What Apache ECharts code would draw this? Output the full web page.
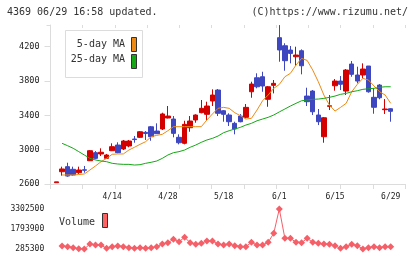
<!DOCTYPE html>
<html>
<head>
<meta charset="utf-8">
<script src="https://cdn.jsdelivr.net/npm/echarts@6/dist/echarts.min.js"></script>
<style>
  html, body { margin: 0; padding: 0; background: #fff; }
  #chart { width: 420px; height: 259px; }
</style>
</head>
<body>
<div id="chart"></div>
<script>
// trading days shown on the chart
const dates = [
  '3/31', '4/1', '4/2', '4/3', '4/6', '4/7', '4/8', '4/9', '4/10', '4/13',
  '4/14', '4/15', '4/16', '4/17', '4/20', '4/21', '4/22', '4/23', '4/24', '4/27',
  '4/28', '4/30', '5/1', '5/7', '5/8', '5/11', '5/12', '5/13', '5/14', '5/15',
  '5/18', '5/19', '5/20', '5/21', '5/22', '5/25', '5/26', '5/27', '5/28', '5/29',
  '6/1', '6/2', '6/3', '6/4', '6/5', '6/8', '6/9', '6/10', '6/11', '6/12',
  '6/15', '6/16', '6/17', '6/18', '6/19', '6/22', '6/23', '6/24', '6/25', '6/26',
  '6/29'
];

const opens = [
  2615, 2743, 2802, 2771, 2732, 2766, 2871, 2965, 2950, 2899,
  2988, 3054, 3008, 3043, 3124, 3144, 3202, 3267, 3217, 3241,
  3369, 3357, 3144, 3074, 3256, 3346, 3431, 3412, 3567, 3695,
  3454, 3404, 3307, 3392, 3377, 3675, 3838, 3850, 3587, 3750,
  4305, 4211, 4161, 4083, 4153, 3625, 3683, 3404, 3151, 3505,
  3745, 3800, 3683, 3998, 3870, 3870, 3975, 3610, 3753, 3466,
  3477
];
const closes = [
  2625, 2775, 2693, 2705, 2763, 2760, 2988, 2899, 2970, 2938,
  3035, 2965, 3101, 3101, 3118, 3209, 3188, 3151, 3186, 3416,
  3392, 3190, 3081, 3295, 3334, 3404, 3482, 3509, 3637, 3424,
  3412, 3326, 3241, 3326, 3493, 3765, 3733, 3742, 3733, 3773,
  4162, 4037, 4122, 4103, 3978, 3559, 3442, 3326, 3372, 3512,
  3800, 3762, 3928, 3878, 3800, 3940, 3675, 3494, 3605, 3474,
  3447
];
const lows = [
  2615, 2697, 2685, 2697, 2717, 2732, 2868, 2888, 2926, 2891,
  2984, 2958, 2996, 3028, 3081, 3136, 3113, 3104, 3186, 3229,
  3365, 3144, 3062, 3062, 3209, 3314, 3424, 3346, 3509, 3392,
  3326, 3276, 3179, 3319, 3365, 3605, 3715, 3675, 3500, 3656,
  4025, 3920, 4006, 3978, 3878, 3509, 3404, 3287, 3081, 3462,
  3687, 3695, 3637, 3850, 3773, 3831, 3664, 3419, 3587, 3416,
  3326
];
const highs = [
  2625, 2802, 2848, 2802, 2802, 2810, 2996, 2984, 3016, 2950,
  3074, 3086, 3113, 3113, 3159, 3217, 3217, 3276, 3307, 3431,
  3509, 3392, 3179, 3337, 3392, 3412, 3579, 3559, 3703, 3707,
  3462, 3424, 3326, 3415, 3532, 3792, 3890, 3908, 3742, 3812,
  4452, 4240, 4208, 4200, 4169, 3722, 3695, 3474, 3381, 3637,
  3823, 3858, 3940, 4033, 3967, 4006, 3975, 3718, 3765, 3590,
  3482
];

// moving averages
const ma5 = [
  null, 2705, 2705, 2705, 2710, 2717, 2763, 2810, 2860, 2899,
  2946, 2950, 2950, 2996, 3028, 3062, 3093, 3151, 3167, 3179,
  3221, 3268, 3268, 3268, 3268, 3268, 3268, 3346, 3416, 3482,
  3493, 3482, 3431, 3396, 3357, 3365, 3462, 3570, 3637, 3715,
  3760, 3850, 3890, 3986, 4064, 4040, 3928, 3792, 3637, 3520,
  3450, 3493, 3540, 3675, 3761, 3831, 3812, 3742, 3675, 3637,
  3540
];
const ma25 = [
  null, 3074, 3046, 3016, 2977, 2938, 2899, 2880, 2868, 2860,
  2841, 2833, 2829, 2829, 2821, 2825, 2841, 2853, 2868, 2899,
  2938, 2965, 2977, 2996, 3028, 3054, 3086, 3113, 3132, 3159,
  3198, 3221, 3241, 3260, 3287, 3307, 3337, 3357, 3377, 3404,
  3440, 3474, 3509, 3540, 3570, 3579, 3587, 3590, 3598, 3610,
  3625, 3645, 3656, 3675, 3687, 3703, 3710, 3715, 3727, 3733,
  3733
];

const volumes = [
  null, 511000, 460000, 385000, 300000, 285300, 663000, 587000, 587000, 335000,
  460000, 511000, 460000, 385000, 335000, 385000, 335000, 385000, 460000, 663000,
  760000, 1017000, 836000, 1168000, 760000, 640000, 715000, 890000, 890000, 663000,
  587000, 663000, 535000, 460000, 460000, 790000, 587000, 587000, 790000, 1470000,
  3302500, 1092000, 1092000, 790000, 760000, 1092000, 790000, 715000, 663000, 640000,
  535000, 335000, 460000, 640000, 535000, 290000, 385000, 460000, 385000, 460000,
  460000
];

const priceTicks = [2600, 4453, 400];
const volTicks = [285300, 3302500, 1508600];

const UP = '#d40000';
const DOWN = '#3e46c0';
const ORANGE = '#ee8a14';
const GREEN = '#14a814';
const VOL = '#f55f68';
const GRID = '#dcdcdc';
const MONO = '"DejaVu Sans Mono", "Liberation Mono", monospace';

const candles = dates.map((d, i) => [opens[i], closes[i], lows[i], highs[i]]);
const plain = (v) => String(v);

const chart = echarts.init(document.getElementById('chart'), null, { renderer: 'canvas' });

const frameX = (inside, len) => ({
  type: 'value', gridIndex: 0, min: 0, max: 11, interval: 1,
  axisLine: { show: !inside, lineStyle: { color: GRID } },
  axisTick: { show: true, inside: inside, length: len, lineStyle: { color: GRID } },
  axisLabel: { show: false },
  splitLine: { show: false }
});
const frameY = (inside, len, labels) => ({
  type: 'value', gridIndex: 0, min: priceTicks[0], max: priceTicks[1], interval: priceTicks[2],
  axisLine: { show: !inside, lineStyle: { color: GRID } },
  axisTick: { show: true, inside: inside, length: len, lineStyle: { color: GRID } },
  axisLabel: {
    show: labels, margin: 11, color: '#222', fontFamily: MONO, fontSize: 8.5,
    showMaxLabel: false, formatter: plain
  },
  splitLine: { show: false }
});

chart.setOption({
  animation: false,
  backgroundColor: '#fff',
  grid: [
    { left: 50.5, top: 25, width: 354.5, height: 159 },
    { left: 53.7, top: 25, width: 339.8, height: 159 },
    { left: 53.7, top: 209, width: 339.8, height: 40 }
  ],
  xAxis: [
    frameX(false, 5),
    frameX(true, 3),
    {
      type: 'category', gridIndex: 1, data: dates, boundaryGap: true,
      axisLine: { show: false }, axisTick: { show: false },
      axisLabel: {
        interval: (idx) => idx > 0 && idx % 10 === 0,
        margin: 9, color: '#222', fontFamily: MONO, fontSize: 8
      },
      splitLine: { show: false }
    },
    {
      type: 'category', gridIndex: 2, data: dates, boundaryGap: true,
      axisLine: { show: false }, axisTick: { show: false },
      axisLabel: { show: false }, splitLine: { show: false }
    }
  ],
  yAxis: [
    frameY(false, 6, true),
    frameY(true, 4, false),
    {
      type: 'value', gridIndex: 1, min: priceTicks[0], max: priceTicks[1],
      show: false, splitLine: { show: false }
    },
    {
      type: 'value', gridIndex: 2, min: volTicks[0], max: volTicks[1], interval: volTicks[2],
      axisLine: { show: false }, axisTick: { show: false },
      axisLabel: { margin: 9.5, color: '#222', fontFamily: MONO, fontSize: 8, formatter: plain },
      splitLine: { show: false }
    }
  ],
  series: [
    {
      type: 'candlestick', xAxisIndex: 2, yAxisIndex: 2,
      data: candles, barWidth: 5,
      itemStyle: { color: UP, color0: DOWN, borderColor: UP, borderColor0: DOWN, borderWidth: 1 }
    },
    {
      type: 'line', xAxisIndex: 2, yAxisIndex: 2, data: ma5,
      showSymbol: false, lineStyle: { color: ORANGE, width: 1 }
    },
    {
      type: 'line', xAxisIndex: 2, yAxisIndex: 2, data: ma25,
      showSymbol: false, lineStyle: { color: GREEN, width: 1 }
    },
    {
      type: 'line', xAxisIndex: 3, yAxisIndex: 3, data: volumes,
      symbol: 'diamond', symbolSize: 7, showAllSymbol: true,
      lineStyle: { color: VOL, width: 1 }, itemStyle: { color: VOL }
    }
  ],
  graphic: [
    {
      type: 'text', left: 7, top: 7,
      style: { text: '4369 06/29 16:58 updated.', font: '10px ' + MONO, fill: '#333' }
    },
    {
      type: 'text', right: 12, top: 7,
      style: { text: '(C)https://www.rizumu.net/', font: '10px ' + MONO, fill: '#333' }
    },
    {
      type: 'group', left: 65, top: 30, z: 100,
      children: [
        { type: 'rect', shape: { x: 0.5, y: 0.5, width: 77, height: 47 },
          style: { fill: '#fff', stroke: GRID, lineWidth: 1 } },
        { type: 'text', x: 60, y: 14, style: { text: '5-day MA', font: '10px ' + MONO, fill: '#333', align: 'right', verticalAlign: 'middle' } },
        { type: 'text', x: 60, y: 29.5, style: { text: '25-day MA', font: '10px ' + MONO, fill: '#333', align: 'right', verticalAlign: 'middle' } },
        { type: 'rect', shape: { x: 66.5, y: 7.5, width: 5, height: 14 },
          style: { fill: ORANGE, stroke: '#333', lineWidth: 1 } },
        { type: 'rect', shape: { x: 66.5, y: 24.5, width: 5, height: 14 },
          style: { fill: GREEN, stroke: '#333', lineWidth: 1 } }
      ]
    },
    {
      type: 'group', left: 59, top: 213, z: 100,
      children: [
        { type: 'text', x: 0, y: 9, style: { text: 'Volume', font: '10px ' + MONO, fill: '#333', verticalAlign: 'middle' } },
        { type: 'rect', shape: { x: 43.5, y: 0.5, width: 5, height: 14 },
          style: { fill: '#ff6262', stroke: '#333', lineWidth: 1 } }
      ]
    }
  ]
});
</script>
</body>
</html>
